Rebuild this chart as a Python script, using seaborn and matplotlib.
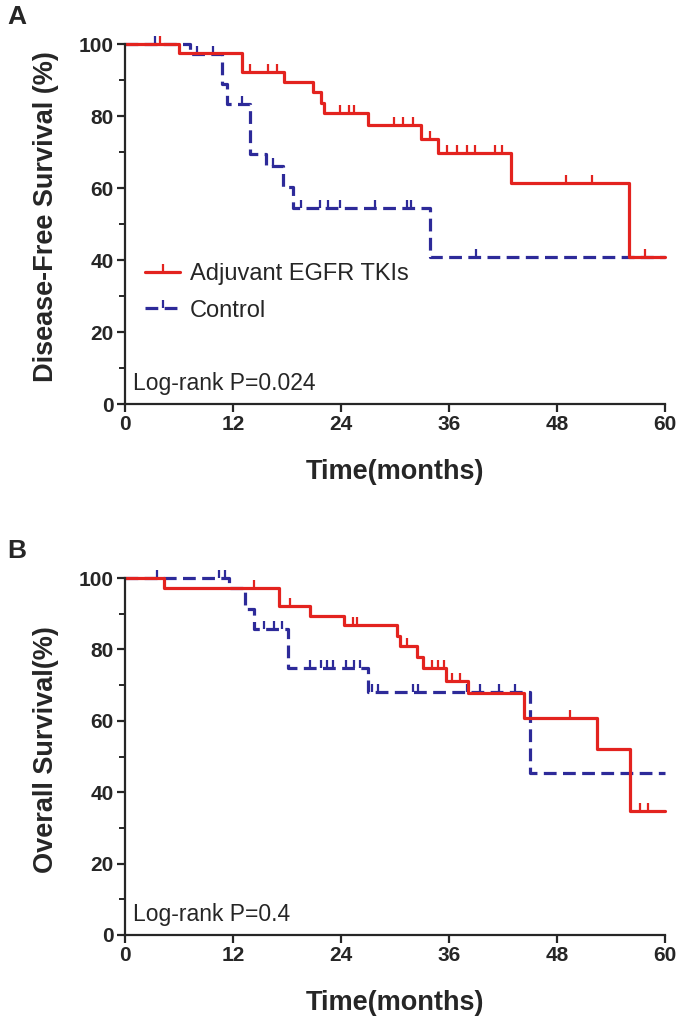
import numpy as np
import pandas as pd
import matplotlib
matplotlib.use('Agg')
import matplotlib.pyplot as plt
from matplotlib.path import Path
from matplotlib.lines import Line2D
import seaborn as sns

# panel A: disease-free survival
dfs_tki_t = [0, 6.0, 13.0, 17.7, 20.9, 21.8, 22.1, 27.0, 32.9, 34.8, 42.9, 56.0, 60]
dfs_tki_s = [100, 97.4, 92.3, 89.5, 86.6, 83.7, 80.9, 77.5, 73.6, 69.7, 61.3, 40.9, 40.9]
dfs_tki_cens = [3.9, 13.9, 15.9, 16.9, 23.9, 24.9, 25.4, 29.9, 30.9, 32.0, 33.9, 35.8,
                36.9, 38.0, 38.9, 41.1, 41.9, 49.0, 51.9, 57.8]
dfs_ctl_t = [0, 7.2, 10.8, 11.3, 13.9, 15.7, 17.6, 18.7, 33.9, 60]
dfs_ctl_s = [100, 97.2, 88.9, 83.3, 69.4, 66.1, 60.4, 54.5, 40.8, 40.8]
dfs_ctl_cens = [3.3, 8.0, 9.8, 13.0, 16.4, 19.6, 21.7, 22.6, 23.9, 27.8, 31.3, 31.8, 39.0]

# panel B: overall survival
os_tki_t = [0, 4.3, 17.1, 20.5, 24.3, 30.2, 30.5, 32.4, 33.1, 35.7, 38.1, 44.3, 52.4, 56.1, 60]
os_tki_s = [100, 97.1, 92.2, 89.4, 86.9, 83.8, 80.9, 78.0, 74.8, 71.1, 67.8, 60.8, 52.1, 34.8, 34.8]
os_tki_cens = [14.3, 18.3, 25.3, 25.8, 31.3, 34.1, 34.8, 35.4, 36.3, 37.2, 49.4, 57.2, 58.1]
os_ctl_t = [0, 11.5, 13.3, 14.3, 18.1, 27.0, 45.0, 60]
os_ctl_s = [100, 97.1, 91.4, 85.7, 74.8, 68.2, 45.3, 45.3]
os_ctl_cens = [3.6, 10.4, 11.1, 15.4, 16.5, 17.4, 20.6, 21.8, 22.4, 23.1, 24.6, 25.4, 26.1,
               27.4, 28.1, 32.0, 32.6, 38.0, 39.4, 41.6, 43.3]

groups = ['Adjuvant EGFR TKIs', 'Control']
red = '#e3231f'
blue = '#2d2a99'

sns.set_style('ticks')
plt.rcParams['font.family'] = ['Liberation Sans', 'DejaVu Sans']

tick = Path([(0, 0), (0, 1)])  # censor mark pointing up


def surv_at(t, times, surv):
    i = np.searchsorted(times, t, side='right') - 1
    return surv[i]


def draw_curve(ax, times, surv, cens, color, dashed):
    df = pd.DataFrame({'t': times, 's': surv})
    ls = (0, (4, 2)) if dashed else '-'
    sns.lineplot(data=df, x='t', y='s', ax=ax, color=color, lw=2.3, linestyle=ls,
                 drawstyle='steps-post', estimator=None, sort=False, clip_on=False)
    cy = [surv_at(c, times, surv) for c in cens]
    ax.plot(cens, cy, linestyle='none', marker=tick, markersize=11,
            markeredgewidth=1.6, color=color, clip_on=False)


fig = plt.figure(figsize=(6.85, 10.26), dpi=100)
axA = fig.add_axes([0.1825, 0.6062, 0.7883, 0.3509])
axB = fig.add_axes([0.1825, 0.0887, 0.7883, 0.3479])

panels = [
    (axA, dfs_tki_t, dfs_tki_s, dfs_tki_cens, dfs_ctl_t, dfs_ctl_s, dfs_ctl_cens,
     'Disease-Free Survival (%)', 'Log-rank P=0.024', 'A', 360),
    (axB, os_tki_t, os_tki_s, os_tki_cens, os_ctl_t, os_ctl_s, os_ctl_cens,
     'Overall Survival(%)', 'Log-rank P=0.4', 'B', 357),
]

for ax, t1, s1, c1, t2, s2, c2, ylab, ptxt, lab, hpx in panels:
    draw_curve(ax, t2, s2, c2, blue, True)
    draw_curve(ax, t1, s1, c1, red, False)
    ax.set_xlim(0, 60)
    ax.set_ylim(0, 100)
    ax.set_xticks([0, 12, 24, 36, 48, 60])
    ax.set_yticks([0, 20, 40, 60, 80, 100])
    ax.set_yticks([10, 30, 50, 70, 90], minor=True)
    ax.tick_params(axis='both', which='major', length=6, width=1.6, labelsize=15,
                   direction='out', pad=2)
    ax.tick_params(axis='y', which='minor', length=4, width=1.4)
    for t in ax.get_xticklabels() + ax.get_yticklabels():
        t.set_fontweight('bold')
    for sp in ['left', 'bottom']:
        ax.spines[sp].set_linewidth(1.6)
    sns.despine(ax=ax)
    ax.set_xlabel('Time(months)', fontsize=19.5, fontweight='bold', va='top')
    ax.set_ylabel(ylab, fontsize=19.5, fontweight='bold')
    ax.xaxis.set_label_coords(0.5, -55 / hpx)
    ax.yaxis.set_label_coords(-0.122, 0.52)
    ax.text(0.015, 0.058, ptxt, transform=ax.transAxes, fontsize=16.5, va='center', ha='left')
    ax.text(-0.218, 1.075, lab, transform=ax.transAxes, fontsize=19, fontweight='bold',
            va='center', ha='left')

handles = [
    Line2D([], [], color=red, lw=2.3, marker=tick, markersize=11, markeredgewidth=1.6),
    Line2D([], [], color=blue, lw=2.3, linestyle=(0, (4, 2)), marker=tick,
           markersize=11, markeredgewidth=1.6),
]
axA.legend(handles, groups, loc='center left', bbox_to_anchor=(0.037, 0.31),
           frameon=False, fontsize=17, handlelength=1.5, handletextpad=0.4,
           labelspacing=0.62, borderaxespad=0, borderpad=0, numpoints=1)

fig.savefig('out.png', dpi=100)
